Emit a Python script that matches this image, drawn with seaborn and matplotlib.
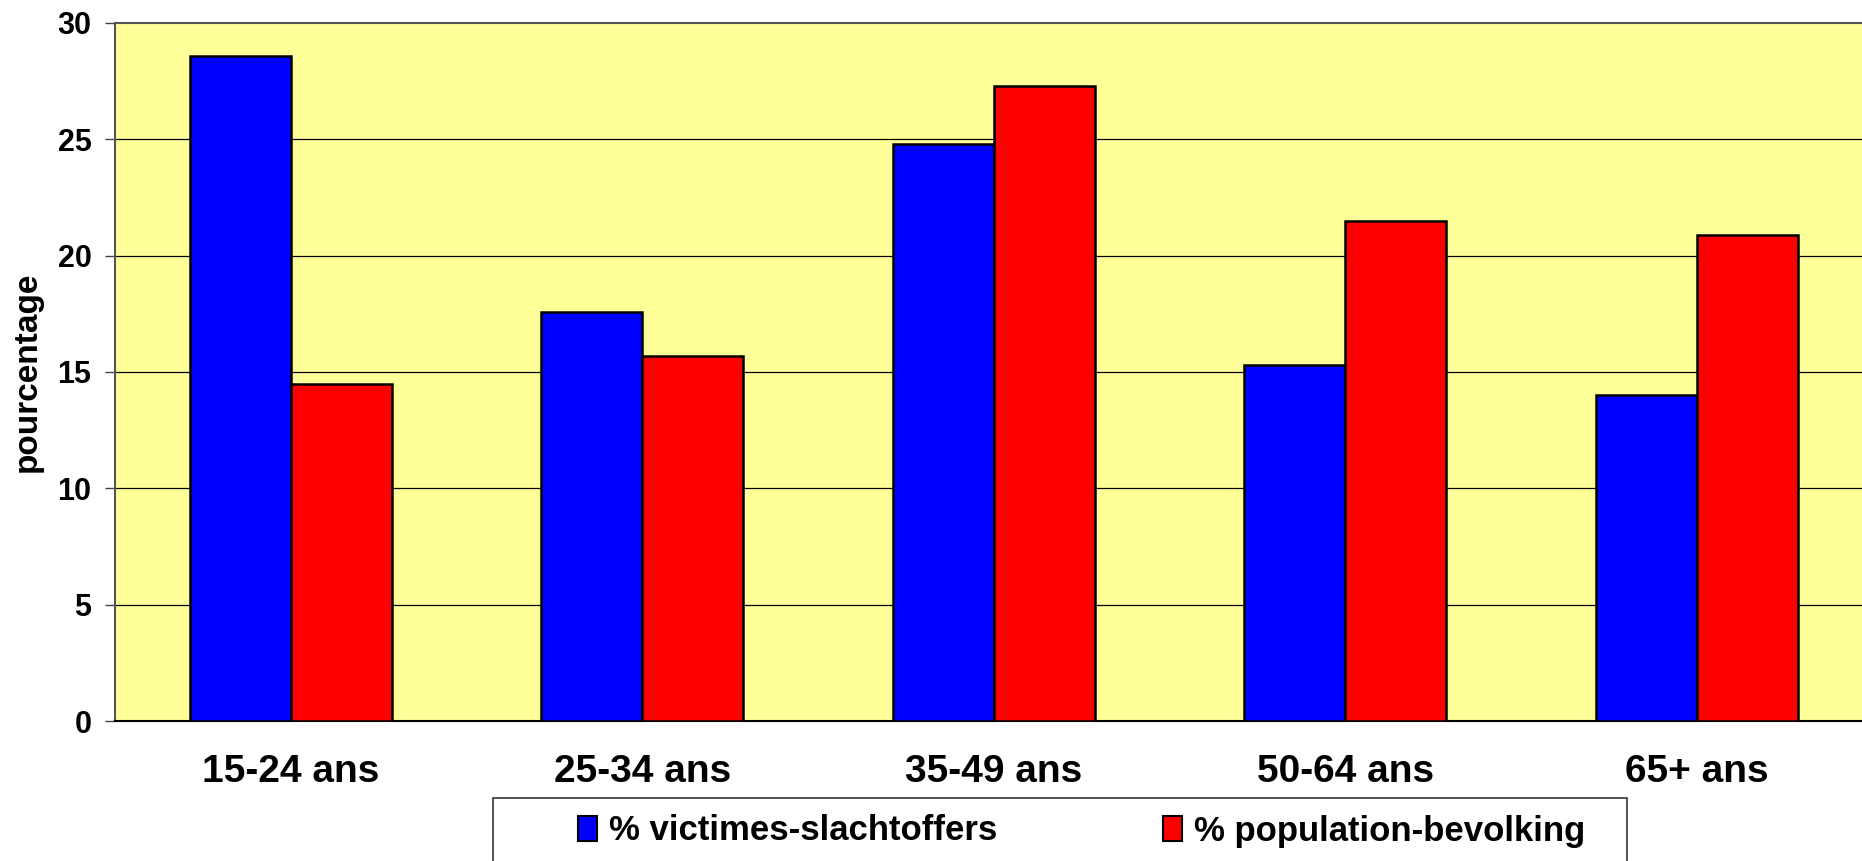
import matplotlib
matplotlib.use("Agg")
import matplotlib.pyplot as plt
import pandas as pd
import seaborn as sns

# values
age_groups = ["15-24 ans", "25-34 ans", "35-49 ans", "50-64 ans", "65+ ans"]
victims = [28.6, 17.6, 24.8, 15.3, 14.0]
population = [14.5, 15.7, 27.3, 21.5, 20.9]
series_names = ["% victimes-slachtoffers", "% population-bevolking"]
series_colors = ["#0000FF", "#FF0000"]
y_ticks = [0, 5, 10, 15, 20, 25, 30]

df = pd.DataFrame({
    "age": age_groups * 2,
    "value": victims + population,
    "series": [series_names[0]] * len(age_groups) + [series_names[1]] * len(age_groups),
})

sns.set_style("white")
plt.rcParams["font.family"] = ["Liberation Sans", "DejaVu Sans"]
plt.rcParams["font.weight"] = "bold"
plt.rcParams["text.color"] = "black"
plt.rcParams["xtick.color"] = "black"
plt.rcParams["ytick.color"] = "black"
plt.rcParams["axes.labelcolor"] = "black"

fig = plt.figure(figsize=(18.62, 8.61), dpi=100)
ax = fig.add_axes([0.0618, 0.1626, 0.9439, 0.8107])
ax.set_facecolor("#FFFF99")

sns.barplot(data=df, x="age", y="value", hue="series", order=age_groups,
            hue_order=series_names, palette=series_colors, width=0.575,
            edgecolor="black", linewidth=1.8, saturation=1, ax=ax, zorder=3)

ax.set_ylim(0, 30)
ax.set_xlim(-0.5, len(age_groups) - 0.5)
ax.set_yticks(y_ticks)
ax.set_yticklabels([str(t) for t in y_ticks], fontsize=22, fontweight="bold")
for t in y_ticks[1:-1]:
    ax.axhline(t, color="black", linewidth=0.9, zorder=1)

ax.set_xticks(range(len(age_groups)))
ax.set_xticklabels(age_groups, fontsize=28, fontweight="bold")
ax.set_xticks([i - 0.5 for i in range(len(age_groups) + 1)], minor=True)
ax.tick_params(axis="x", which="major", length=0, pad=24)
ax.tick_params(axis="x", which="minor", length=9, width=1, color="#444444", direction="out")
ax.tick_params(axis="y", length=7, width=1, color="#444444", direction="out", pad=10, left=True)

ax.set_xlabel("")
ax.set_ylabel("pourcentage", fontsize=24, fontweight="bold")
ax.yaxis.set_label_coords(-0.041, 0.5)

for side in ["top", "left"]:
    ax.spines[side].set_color("#555555")
    ax.spines[side].set_linewidth(1.5)
ax.spines["bottom"].set_color("black")
ax.spines["bottom"].set_linewidth(1.5)
ax.spines["right"].set_visible(False)

ax.legend_.remove()

# legend frame, running off the bottom of the figure as in the reference
fig.patches.append(plt.Rectangle((493 / 1862, -0.05), 1134 / 1862, 0.05 + 1 - 798 / 861,
                                 transform=fig.transFigure, facecolor="white",
                                 edgecolor="#333333", linewidth=1.2))
handles = [plt.Rectangle((0, 0), 1, 1, facecolor=c, edgecolor="black", linewidth=1.5)
           for c in series_colors]
fig.legend(handles, series_names, loc="center left",
           bbox_to_anchor=(578 / 1862, 1 - 831 / 861, 1007 / 1862, 0),
           mode="expand", ncol=2, frameon=False,
           prop={"size": 25, "weight": "bold"}, handlelength=0.55,
           handleheight=0.72, handletextpad=0.35, borderpad=0,
           borderaxespad=0)

fig.savefig("out.png", dpi=100)
plt.close(fig)
